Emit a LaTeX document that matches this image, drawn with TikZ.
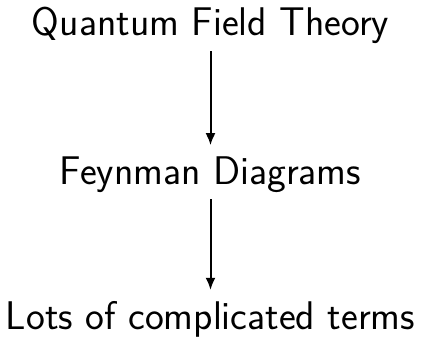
\documentclass[tikz,border=0pt]{standalone}
\usepackage{tikz}
\usetikzlibrary{positioning,arrows.meta}
\tikzset{
  node-step/.style={font=\sffamily\fontsize{20}{24}\selectfont,anchor=base},
  arrow/.style={-{Latex[length=6pt,width=5pt]},line width=1pt,shorten >=2pt},
}

\begin{document}
\begin{tikzpicture}[x=1pt,y=1pt]
  \useasboundingbox (0,0) rectangle (210.5,-168);
  \node[node-step] (qft) at (105.25,-18) {Quantum Field Theory};
  \node[node-step,below=74pt of qft.base,anchor=base] (feyn) {Feynman Diagrams};
  \node[node-step,below=72.5pt of feyn.base,anchor=base] (terms) {Lots of complicated terms};
  \draw[arrow] (qft) -- (feyn);
  \draw[arrow] (feyn) -- (terms);
\end{tikzpicture}
\end{document}
